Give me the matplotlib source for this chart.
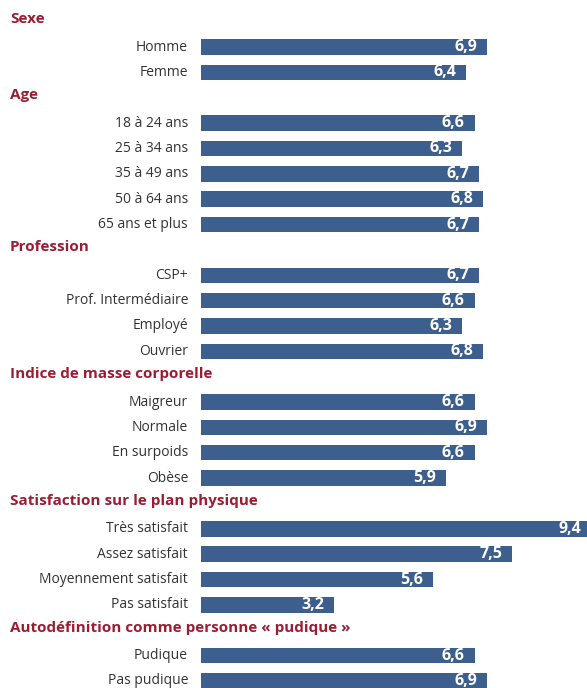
import matplotlib.pyplot as plt
import matplotlib.transforms as mtransforms

# sections with their categories and values
sections = ['Sexe', 'Age', 'Profession', 'Indice de masse corporelle',
            'Satisfaction sur le plan physique',
            'Autodéfinition comme personne « pudique »']
sexe_labels = ['Homme', 'Femme']
sexe_values = [6.9, 6.4]
age_labels = ['18 à 24 ans', '25 à 34 ans', '35 à 49 ans', '50 à 64 ans', '65 ans et plus']
age_values = [6.6, 6.3, 6.7, 6.8, 6.7]
prof_labels = ['CSP+', 'Prof. Intermédiaire', 'Employé', 'Ouvrier']
prof_values = [6.7, 6.6, 6.3, 6.8]
imc_labels = ['Maigreur', 'Normale', 'En surpoids', 'Obèse']
imc_values = [6.6, 6.9, 6.6, 5.9]
satis_labels = ['Très satisfait', 'Assez satisfait', 'Moyennement satisfait', 'Pas satisfait']
satis_values = [9.4, 7.5, 5.6, 3.2]
pudique_labels = ['Pudique', 'Pas pudique']
pudique_values = [6.6, 6.9]

groups = [(sexe_labels, sexe_values), (age_labels, age_values),
          (prof_labels, prof_values), (imc_labels, imc_values),
          (satis_labels, satis_values), (pudique_labels, pudique_values)]

bar_color = '#3d5f8d'
head_color = '#9b1d33'
plt.rcParams['font.family'] = ['Open Sans', 'DejaVu Sans']

W, H = 587, 688
fig = plt.figure(figsize=(W / 100, H / 100), dpi=100)
ax = fig.add_axes([201 / W, 0, 1 - 201 / W, 1])
ax.set_axis_off()

# one slot per row (headers included), ~25.4px apart, first bar at y=47px
slot = 25.36
top = 47 - slot
ax.set_ylim((H - top) / slot, -top / slot)
ax.set_xlim(0, (W - 201) / 41.45)

trans = mtransforms.blended_transform_factory(fig.transFigure, ax.transData)

pos = 0
for title, (labels, values) in zip(sections, groups):
    ax.text(10 / W, pos - 0.1, title, transform=trans, ha='left', va='center',
            fontsize=11, fontweight='bold', color=head_color)
    pos += 1
    for lab, val in zip(labels, values):
        ax.barh(pos, val, height=0.61, color=bar_color)
        ax.text(188 / W, pos, lab, transform=trans, ha='right', va='center',
                fontsize=10, color='#333333')
        ax.annotate(f'{val:.1f}'.replace('.', ','), xy=(val, pos),
                    xytext=(-7, 0), textcoords='offset points',
                    ha='right', va='center', fontsize=11.5,
                    fontweight='bold', color='white', annotation_clip=False)
        pos += 1

fig.savefig('out.png', dpi=100)
